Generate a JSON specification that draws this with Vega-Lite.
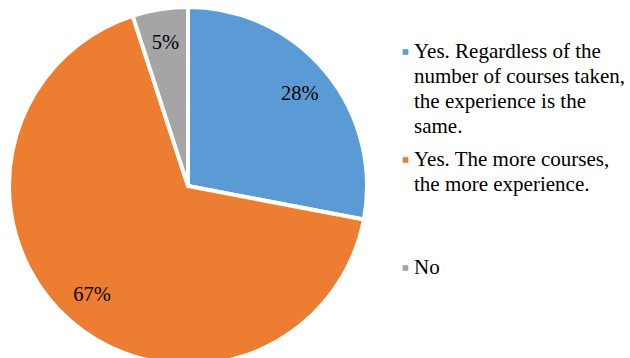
{
  "$schema": "https://vega.github.io/schema/vega-lite/v6.json",
  "width": 376,
  "height": 372,
  "autosize": "none",
  "padding": {"left": 0, "top": 0, "right": 254, "bottom": 0},
  "background": "white",
  "view": {"stroke": null},
  "config": {
    "style": {"guide-label": {"lineHeight": 25}}
  },
  "data": {
    "values": [
      {"category": "Yes. Regardless of the|number of courses taken,|the experience is the|same.", "value": 28, "label": "28%", "order": 1},
      {"category": "Yes. The more courses,|the more experience.| | ", "value": 67, "label": "67%", "order": 2},
      {"category": "No", "value": 5, "label": "5%", "order": 3}
    ]
  },
  "encoding": {
    "theta": {"field": "value", "type": "quantitative", "stack": true},
    "order": {"field": "order", "type": "quantitative"}
  },
  "layer": [
    {
      "mark": {"type": "arc", "outerRadius": 179, "stroke": "white", "strokeWidth": 4},
      "encoding": {
        "color": {
          "field": "category",
          "type": "nominal",
          "sort": null,
          "scale": {
            "domain": ["Yes. Regardless of the|number of courses taken,|the experience is the|same.", "Yes. The more courses,|the more experience.| | ", "No"],
            "range": ["#5B9BD5", "#ED7D31", "#A5A5A5"]
          },
          "legend": {
            "title": null,
            "orient": "none",
            "legendX": 395,
            "legendY": 41.5,
            "padding": 0,
            "symbolType": "square",
            "symbolSize": 32,
            "symbolStrokeWidth": 0,
            "labelFont": "Liberation Serif",
            "labelFontSize": 21,
            "labelLimit": 0,
            "labelColor": "#000000",
            "labelOffset": -2,
            "rowPadding": 11,
            "labelExpr": "split(datum.label, '|')"
          }
        }
      }
    },
    {
      "mark": {"type": "text", "radius": 145, "font": "Liberation Serif", "fontSize": 20.5, "color": "#000000"},
      "encoding": {"text": {"field": "label"}}
    }
  ]
}
